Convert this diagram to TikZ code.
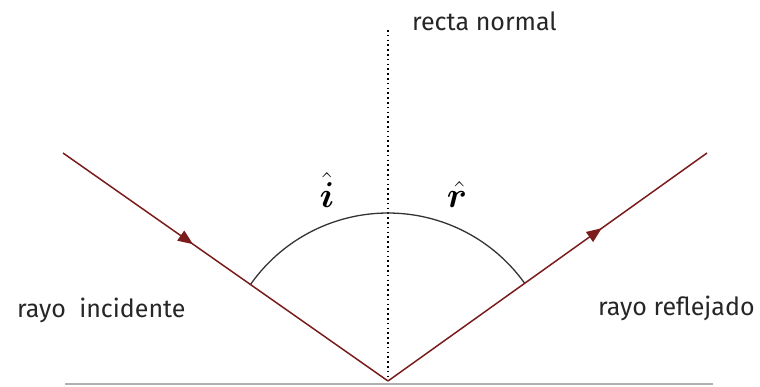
\RequirePackage{fix-cm}
\documentclass[tikz,border=0pt]{standalone}
\usepackage{fontspec}
\setmainfont{Fira Sans}
\usepackage{amsmath,bm}
\usetikzlibrary{arrows.meta,decorations.markings}
\definecolor{raycol}{HTML}{7A1C1C}
\definecolor{arccol}{HTML}{333333}
\definecolor{groundcol}{HTML}{B0B0B0}
\tikzset{
  ray/.style={draw=raycol, line width=1.5pt},
  lbl/.style={font=\fontsize{25}{29}\selectfont, text=black!85, inner sep=0pt, anchor=base west},
  anglbl/.style={font=\fontsize{36}{40}\selectfont, inner sep=0pt, anchor=base},
  normalline/.style={draw=black, line width=1.6pt, dash pattern=on 1.6pt off 3.2pt},
  midarrow/.style={postaction={decorate, decoration={markings,
      mark=at position #1 with {\arrow[raycol]{Triangle[length=15pt,width=12pt]}}}}}
}
\begin{document}
\begin{tikzpicture}[x=1pt,y=-1pt]
\useasboundingbox (0,0) rectangle (760,386);
% key points
\coordinate (V) at (388,381);
\coordinate (A) at (63,153);
\coordinate (B) at (707,153);
\coordinate (N) at (388,30);
\coordinate (GL) at (65,384);
\coordinate (GR) at (713,384);
% ground line
\draw[draw=groundcol, line width=1.2pt] (GL) -- (GR);
% normal
\draw[normalline] (N) -- (V);
% arc (y axis points down, so angles are negated)
\draw[draw=arccol, line width=1.3pt] (V) ++(-145:168) arc[start angle=-145, end angle=-35.5, radius=168];
% rays
\draw[ray, midarrow=0.4] (A) -- (V);
\draw[ray, midarrow=0.67] (V) -- (B);
% labels
\node[lbl] (tn) at (412,30) {recta normal};
\node[lbl] (ti) at (17,317) {rayo\ \ incidente};
\node[lbl] (tr) at (598,315) {rayo reflejado};
\node[anglbl] (ai) at (327,207) {$\bm{\hat{i}}$};
\node[anglbl] (ar) at (457,207) {$\bm{\hat{r}}$};
\end{tikzpicture}
\end{document}
